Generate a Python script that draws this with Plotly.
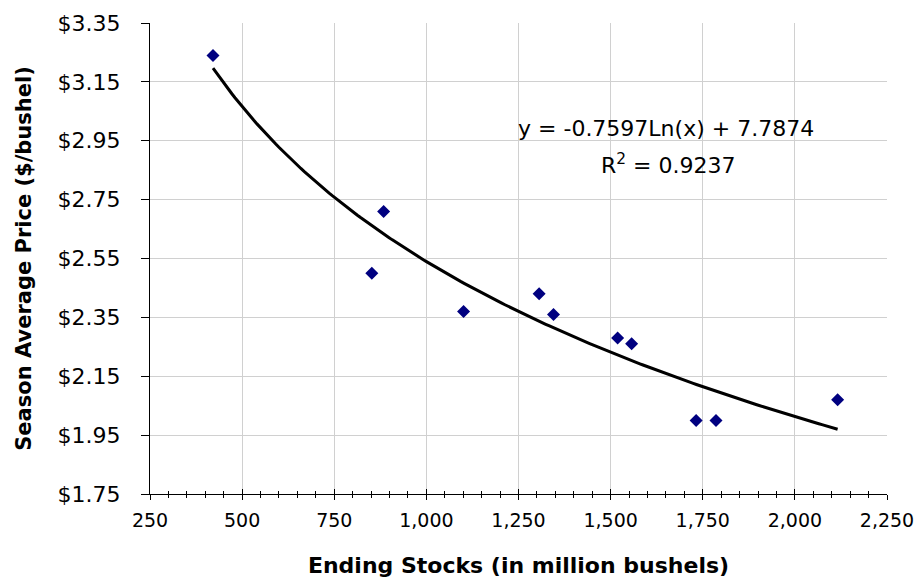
import numpy as np
import plotly.graph_objects as go

# Data
ending_stocks = [421, 852, 884, 1101, 1306, 1345, 1519, 1557, 1732, 1786, 2116]
avg_price = [3.24, 2.50, 2.71, 2.37, 2.43, 2.36, 2.28, 2.26, 2.00, 2.00, 2.07]

# Logarithmic trendline coefficients (shown on the chart)
trend_slope = -0.7597
trend_intercept = 7.7874
r_squared = 0.9237

trend_x = np.linspace(min(ending_stocks), max(ending_stocks), 200)
trend_y = trend_slope * np.log(trend_x) + trend_intercept

FONT = "DejaVu Sans, Liberation Sans, Arial, sans-serif"

W, H = 918, 583
ML, MR, MT, MB = 150, 31, 23, 89

fig = go.Figure()
fig.add_trace(go.Scatter(
    x=trend_x, y=trend_y, mode="lines",
    line=dict(color="black", width=3), hoverinfo="skip", showlegend=False,
))
fig.add_trace(go.Scatter(
    x=ending_stocks, y=avg_price, mode="markers",
    marker=dict(symbol="diamond", size=10, color="#000080"),
    showlegend=False,
))
# invisible trace for the overlay axis (inside ticks -> ticks crossing the axis line)
fig.add_trace(go.Scatter(x=[250, 2250], y=[1.75, 1.75], xaxis="x2", mode="markers",
                         marker=dict(opacity=0), hoverinfo="skip", showlegend=False))

fig.update_layout(
    width=W, height=H,
    margin=dict(l=ML, r=MR, t=MT, b=MB, autoexpand=False),
    paper_bgcolor="white", plot_bgcolor="white",
    font=dict(family=FONT, color="black", size=22),
    xaxis=dict(
        range=[250, 2250], tick0=250, dtick=250, tickformat=",",
        tickfont=dict(size=19),
        showgrid=True, gridcolor="#d0d0d0", gridwidth=1,
        showline=True, linecolor="black", linewidth=1,
        ticks="outside", ticklen=5, tickcolor="black", tickwidth=1,
        minor=dict(dtick=50, ticks="outside", ticklen=3, tickcolor="black", showgrid=False),
        ticklabelstandoff=4, automargin=False, ticklabeloverflow="allow",
        zeroline=False,
        title=dict(text="<b>Ending Stocks (in million bushels)</b>", font=dict(size=22), standoff=27),
    ),
    xaxis2=dict(
        overlaying="x", range=[250, 2250], tick0=250, dtick=250,
        showgrid=False, showline=False, showticklabels=False, zeroline=False,
        ticks="inside", ticklen=5, tickcolor="black", tickwidth=1,
        minor=dict(dtick=50, ticks="inside", ticklen=3, tickcolor="black", showgrid=False),
        anchor="y", side="bottom", automargin=False,
    ),
    yaxis=dict(
        range=[1.75, 3.35], tick0=1.75, dtick=0.2, tickprefix="$", tickformat=".2f",
        showgrid=True, gridcolor="#d0d0d0", gridwidth=1,
        showline=True, linecolor="black", linewidth=1,
        ticks="outside", ticklen=8, tickcolor="black", tickwidth=1,
        ticklabelstandoff=16, automargin=False, ticklabeloverflow="allow",
        zeroline=False,
        title=dict(text="<b>Season Average Price ($/bushel)</b>", font=dict(size=21), standoff=20),
    ),
)

pw = W - ML - MR
ph = H - MT - MB
def px_to_paper(xp, yp):
    return (xp - ML) / pw, 1 - (yp - MT) / ph

ax1, ay1 = px_to_paper(666, 129)
ax2, ay2 = px_to_paper(668, 164)
fig.add_annotation(x=ax1, y=ay1, xref="paper", yref="paper", showarrow=False,
                   xanchor="center", yanchor="middle",
                   text=f"y = {trend_slope}Ln(x) + {trend_intercept}", font=dict(size=22))
fig.add_annotation(x=ax2, y=ay2, xref="paper", yref="paper", showarrow=False,
                   xanchor="center", yanchor="middle",
                   text=f"R<sup>2</sup> = {r_squared}", font=dict(size=22))

fig.write_html(
    "out.html",
    config={"displayModeBar": False},
    post_script="document.body.style.margin='0';document.body.style.overflow='hidden';",
)
